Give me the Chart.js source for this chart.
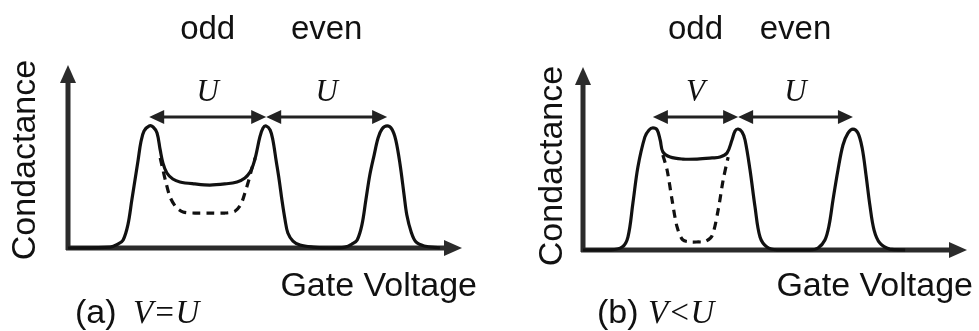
<!DOCTYPE html>
<html>
<head>
<meta charset="utf-8">
<script src="https://cdn.jsdelivr.net/npm/chart.js@4.4.1/dist/chart.umd.min.js"></script>
<style>
  body { margin: 0; background: #fff; }
  #wrap { position: relative; width: 979px; height: 331px; }
  canvas { position: absolute; top: 0; }
</style>
</head>
<body>
<div id="wrap">
  <canvas id="panelA" width="490" height="331" style="left:0"></canvas>
  <canvas id="panelB" width="489" height="331" style="left:490px"></canvas>
</div>
<script>
// gate voltage / conductance in arbitrary units (0..10 on both axes)

// panel (a): V = U
const aGate = [0, 1.07, 1.27, 1.40, 1.52, 1.62, 1.70, 1.78, 1.85, 1.93, 2.06, 2.16, 2.26, 2.34, 2.41, 2.51, 2.66, 2.84, 3.22, 3.60,
               3.98, 4.29, 4.49, 4.62, 4.70, 4.77, 4.87, 4.95, 5.03, 5.13, 5.20, 5.28, 5.36, 5.43, 5.51, 5.58, 5.71, 5.89, 6.22, 6.65,
               7.03, 7.21, 7.34, 7.46, 7.56, 7.66, 7.77, 7.87, 7.97, 8.10, 8.22, 8.32, 8.43, 8.53, 8.60, 8.71, 8.83, 9.04, 9.44];
const aCond = [0, 0.05, 0.22, 0.44, 1.26, 2.62, 3.72, 4.81, 5.79, 6.39, 6.67, 6.61, 6.28, 5.36, 4.64, 4.10, 3.77, 3.61, 3.50, 3.44,
               3.50, 3.61, 3.83, 4.15, 4.54, 5.08, 6.07, 6.56, 6.67, 6.45, 5.90, 4.81, 3.72, 2.62, 1.53, 0.82, 0.38, 0.16, 0.05, 0,
               0.05, 0.22, 0.44, 1.26, 2.62, 3.99, 5.08, 6.01, 6.50, 6.67, 6.50, 5.90, 4.54, 2.90, 1.80, 0.87, 0.33, 0.11, 0];
const aDashGate = [2.34, 2.41, 2.49, 2.59, 2.74, 2.92, 3.22, 3.60, 3.98, 4.24, 4.39, 4.49, 4.59, 4.67, 4.75];
const aDashCond = [4.92, 4.26, 3.55, 2.79, 2.24, 1.97, 1.91, 1.91, 1.91, 2.02, 2.40, 3.01, 3.72, 4.37, 4.92];
const aPeaks = [2.06, 5.03, 8.10];
const aSpacing = ['U', 'U'];

// panel (b): V < U
const bGate = [0, 0.70, 1.02, 1.17, 1.30, 1.43, 1.61, 1.72, 1.82, 1.93, 2.01, 2.08, 2.27, 2.60, 2.97, 3.36, 3.57, 3.75, 3.88, 3.96,
               4.04, 4.14, 4.22, 4.35, 4.48, 4.61, 4.79, 5.05, 5.91, 6.12, 6.30, 6.41, 6.51, 6.64, 6.77, 6.90, 7.03, 7.16, 7.27, 7.37,
               7.47, 7.58, 7.73, 7.99, 8.39];
const bCond = [0, 0, 0.16, 0.71, 2.57, 4.54, 6.17, 6.56, 6.67, 6.56, 6.01, 5.36, 5.08, 4.97, 4.97, 5.03, 5.08, 5.30, 6.01, 6.50,
               6.61, 6.45, 6.01, 4.37, 2.35, 0.71, 0.16, 0, 0, 0.11, 0.55, 1.37, 2.73, 4.37, 5.74, 6.39, 6.61, 6.39, 5.57, 4.10,
               2.46, 1.09, 0.38, 0.05, 0];
const bDashGate = [2.08, 2.19, 2.32, 2.45, 2.60, 2.80, 3.00, 3.18, 3.36, 3.52, 3.65, 3.78];
const bDashCond = [5.19, 4.37, 2.73, 1.26, 0.55, 0.44, 0.44, 0.46, 0.77, 2.19, 3.83, 5.08];
const bPeaks = [1.82, 4.04, 7.03];
const bSpacing = ['V', 'U'];

const parityLabels = ['odd', 'even'];
const xTitle = 'Gate Voltage';
const yTitle = 'Condactance';

const INK = '#111';
const AXIS = '#2b2b2b';

function toPoints(xs, ys) {
    return xs.map((x, i) => ({ x: x, y: ys[i] }));
}

function head(ctx, x, y, angle, len, half) {
    ctx.save();
    ctx.translate(x, y);
    ctx.rotate(angle);
    ctx.beginPath();
    ctx.moveTo(0, 0);
    ctx.lineTo(-len, -half);
    ctx.lineTo(-len, half);
    ctx.closePath();
    ctx.fill();
    ctx.restore();
}

// axes, spacing arrows and all the labels
const schematicPlugin = {
    id: 'schematic',
    beforeDatasetsDraw(chart, args, o) {
        const ctx = chart.ctx;
        const { left, right, top, bottom } = chart.chartArea;
        ctx.save();
        ctx.strokeStyle = AXIS;
        ctx.fillStyle = AXIS;
        ctx.lineWidth = 5;
        ctx.beginPath();
        ctx.moveTo(left, bottom + 2);
        ctx.lineTo(left, top + 12);
        ctx.moveTo(left - 2, bottom);
        ctx.lineTo(right - 12, bottom);
        ctx.stroke();
        head(ctx, left, top, -Math.PI / 2, 18, 8);
        head(ctx, right, bottom, 0, 18, 8);
        ctx.restore();
    },
    afterDatasetsDraw(chart, args, o) {
        const ctx = chart.ctx;
        const xs = chart.scales.x, ys = chart.scales.y;
        const { left, right, bottom } = chart.chartArea;
        const ay = ys.getPixelForValue(o.arrowLevel);
        ctx.save();
        ctx.strokeStyle = '#222';
        ctx.fillStyle = '#222';
        ctx.lineWidth = 3;
        for (let i = 0; i < o.peaks.length - 1; i++) {
            const x1 = xs.getPixelForValue(o.peaks[i]);
            const x2 = xs.getPixelForValue(o.peaks[i + 1]);
            ctx.beginPath();
            ctx.moveTo(x1 + 10, ay);
            ctx.lineTo(x2 - 10, ay);
            ctx.stroke();
            head(ctx, x1, ay, Math.PI, 15, 7);
            head(ctx, x2, ay, 0, 15, 7);

            const mid = (x1 + x2) / 2;
            ctx.fillStyle = INK;
            ctx.textAlign = 'center';
            ctx.textBaseline = 'alphabetic';
            ctx.font = 'italic 31px "Liberation Serif"';
            ctx.fillText(o.spacing[i], mid, ay - 16);
            ctx.font = '33px "Liberation Sans"';
            ctx.fillText(parityLabels[i], mid, 39);
            ctx.fillStyle = '#222';
        }

        ctx.fillStyle = INK;
        ctx.font = '34px "Liberation Sans"';
        ctx.textAlign = 'right';
        ctx.fillText(xTitle, right + o.xTitleDx, 296);

        ctx.textAlign = 'left';
        ctx.fillText(o.tag, left + o.tagDx, 323);
        ctx.font = 'italic 33px "Liberation Serif"';
        ctx.fillText(o.relation, left + 65, 323);

        ctx.save();
        ctx.translate(left + o.yTitleDx, o.yTitleY);
        ctx.rotate(-Math.PI / 2);
        ctx.textAlign = 'center';
        ctx.font = '34px "Liberation Sans"';
        ctx.fillText(yTitle, 0, 0);
        ctx.restore();
        ctx.restore();
    }
};

function makePanel(id, solidX, solidY, dashX, dashY, opts, padding) {
    return new Chart(document.getElementById(id).getContext('2d'), {
        type: 'line',
        data: {
            datasets: [
                {
                    data: toPoints(solidX, solidY),
                    borderColor: INK,
                    borderWidth: 3.2,
                    tension: 0.35,
                    pointRadius: 0,
                    clip: false
                },
                {
                    data: toPoints(dashX, dashY),
                    borderColor: INK,
                    borderWidth: 3.2,
                    borderDash: [8, 6],
                    tension: 0.3,
                    pointRadius: 0,
                    clip: false
                }
            ]
        },
        options: {
            responsive: false,
            animation: false,
            devicePixelRatio: 1,
            layout: { padding: padding },
            scales: {
                x: { type: 'linear', min: 0, max: 10, display: false },
                y: { min: 0, max: 10, display: false }
            },
            plugins: {
                legend: { display: false },
                tooltip: { enabled: false },
                schematic: opts
            }
        },
        plugins: [schematicPlugin]
    });
}

makePanel('panelA', aGate, aCond, aDashGate, aDashCond, {
    peaks: aPeaks, spacing: aSpacing, arrowLevel: 7.16,
    tag: '(a)', relation: 'V=U', tagDx: 7,
    xTitleDx: 15, yTitleDx: -33, yTitleY: 160
}, { left: 68, right: 28, top: 65, bottom: 83 });

makePanel('panelB', bGate, bCond, bDashGate, bDashCond, {
    peaks: bPeaks, spacing: bSpacing, arrowLevel: 7.27,
    tag: '(b)', relation: 'V<U', tagDx: 14,
    xTitleDx: 6, yTitleDx: -21, yTitleY: 166
}, { left: 93, right: 12, top: 67, bottom: 81 });
</script>
</body>
</html>
